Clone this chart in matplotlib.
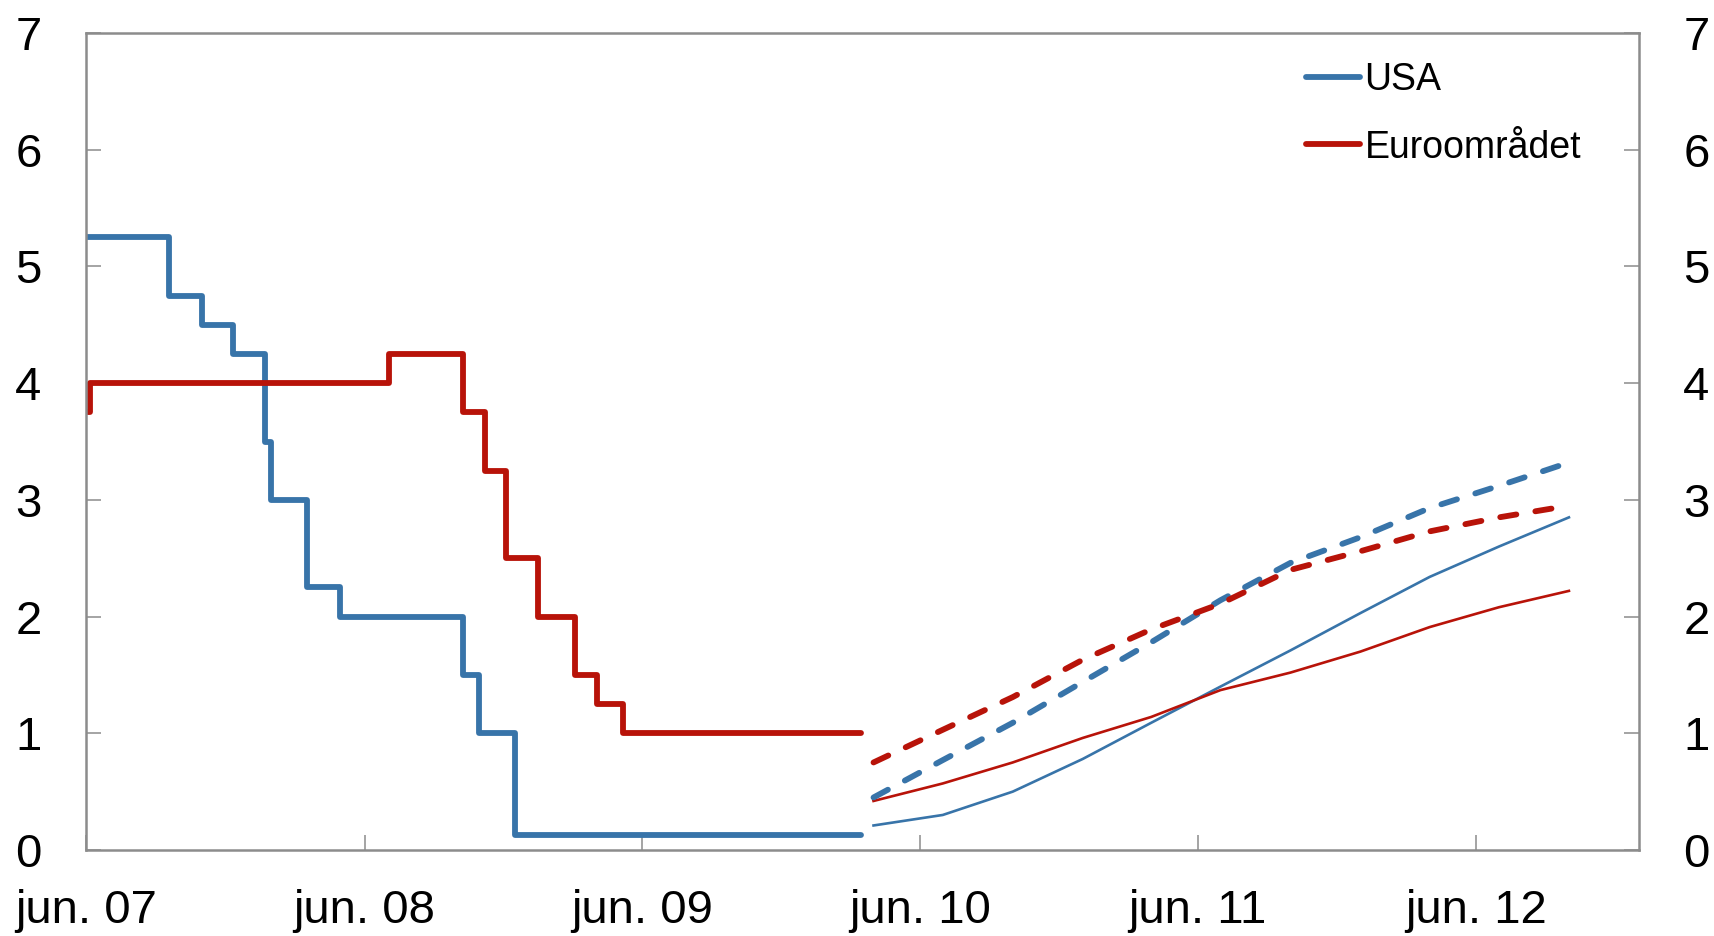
import matplotlib
matplotlib.use("Agg")
import matplotlib.pyplot as plt
import pandas as pd

plt.rcParams["font.family"] = ["Liberation Sans", "DejaVu Sans"]

# ─── Data ────────────────────────────────────────────────────────────────────

# Policy rates (step changes), last entry repeats the final level
usa_dates = ["2007-06-01", "2007-09-18", "2007-10-31", "2007-12-11", "2008-01-22",
             "2008-01-30", "2008-03-18", "2008-04-30", "2008-10-08", "2008-10-29",
             "2008-12-16", "2010-03-16"]
usa_rate = [5.25, 4.75, 4.50, 4.25, 3.50, 3.00, 2.25, 2.00, 1.50, 1.00, 0.125, 0.125]

eur_dates = ["2007-06-01", "2007-06-06", "2008-07-03", "2008-10-08", "2008-11-06",
             "2008-12-04", "2009-01-15", "2009-03-05", "2009-04-02", "2009-05-07",
             "2010-03-16"]
eur_rate = [3.75, 4.00, 4.25, 3.75, 3.25, 2.50, 2.00, 1.50, 1.25, 1.00, 1.00]

# Market expectations, quarterly
fwd_dates = ["2010-04-01", "2010-07-01", "2010-10-01", "2011-01-01", "2011-04-01",
             "2011-07-01", "2011-10-01", "2012-01-01", "2012-04-01", "2012-07-01",
             "2012-10-01"]
usa_fwd_dashed = [0.45, 0.77, 1.09, 1.44, 1.78, 2.14, 2.46, 2.68, 2.93, 3.12, 3.32]
eur_fwd_dashed = [0.75, 1.03, 1.31, 1.63, 1.89, 2.11, 2.40, 2.56, 2.73, 2.85, 2.95]
usa_fwd_thin = [0.21, 0.30, 0.50, 0.78, 1.09, 1.40, 1.71, 2.03, 2.34, 2.60, 2.85]
eur_fwd_thin = [0.42, 0.57, 0.75, 0.96, 1.14, 1.37, 1.52, 1.70, 1.91, 2.08, 2.22]

tick_dates = ["2007-06-01", "2008-06-01", "2009-06-01", "2010-06-01",
              "2011-06-01", "2012-06-01"]
tick_labels = ["jun. 07", "jun. 08", "jun. 09", "jun. 10", "jun. 11", "jun. 12"]
y_ticks = [0, 1, 2, 3, 4, 5, 6, 7]

BLUE = "#3874a9"
RED = "#b81309"
GREY = "#8c8c8c"

# ─── Plot ────────────────────────────────────────────────────────────────────

fig = plt.figure(figsize=(17.14, 9.36), dpi=100)
ax = fig.add_axes([0.0502, 0.0919, 0.906, 0.8728])

thick = 4.2
thin = 1.9
dash = (2.8, 3.3)

ax.plot(pd.to_datetime(usa_dates), usa_rate, drawstyle="steps-post", color=BLUE,
        lw=thick, solid_capstyle="round", solid_joinstyle="round", label="USA")
ax.plot(pd.to_datetime(eur_dates), eur_rate, drawstyle="steps-post", color=RED,
        lw=thick, solid_capstyle="round", solid_joinstyle="round", label="Euroområdet")

fd = pd.to_datetime(fwd_dates)
ax.plot(fd, usa_fwd_thin, color=BLUE, lw=thin)
ax.plot(fd, eur_fwd_thin, color=RED, lw=thin)
ax.plot(fd, usa_fwd_dashed, color=BLUE, lw=thick, dashes=dash, dash_capstyle="round")
ax.plot(fd, eur_fwd_dashed, color=RED, lw=thick, dashes=dash, dash_capstyle="round")

ax.set_xlim(pd.Timestamp("2007-06-01"), pd.Timestamp("2013-01-01"))
ax.set_ylim(0, 7)
ax.set_xticks(pd.to_datetime(tick_dates))
ax.set_xticklabels(tick_labels)
ax.set_yticks(y_ticks)

for s in ax.spines.values():
    s.set_color(GREY)
    s.set_linewidth(1.8)

ax.tick_params(axis="both", direction="in", length=10.8, width=1.1, color=GREY,
               labelsize=34, labelcolor="black")
ax.tick_params(axis="y", right=True, labelright=True, pad=32)
ax.tick_params(axis="x", pad=28)

leg = ax.legend(loc="upper left", bbox_to_anchor=(0.7856, 0.965), frameon=False,
                fontsize=27, handlelength=1.44, handletextpad=0.12,
                labelspacing=0.85, borderpad=0, borderaxespad=0)
for h in leg.get_lines():
    h.set_linewidth(thick)
    h.set_solid_capstyle("round")

fig.savefig("out.png", dpi=100)
